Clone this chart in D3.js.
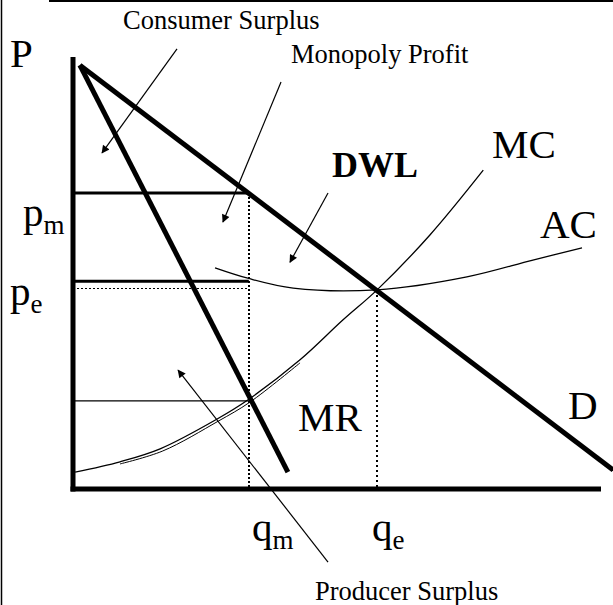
<!DOCTYPE html>
<html>
<head>
<meta charset="utf-8">
<script src="https://cdn.jsdelivr.net/npm/d3@7"></script>
<style>
  body { margin: 0; background: #fff; }
  text { font-family: "Liberation Serif", "Times New Roman", serif; fill: #000; }
</style>
</head>
<body>
<svg id="chart" width="613" height="605"></svg>
<script>
// curves, in quantity / price units (0..10)
var demand = [[0.13, 9.81], [10.23, 0.44]];
var marginalRevenue = [[0.13, 9.81], [4.07, 0.39]];
var marginalCost = [[0.04, 0.39], [0.89, 0.63], [1.65, 0.93], [2.73, 1.62], [3.31, 2.06], [4.30, 2.99], [5.11, 3.91], [5.76, 4.61], [6.76, 5.88], [7.77, 7.38]];
var marginalCost2 = [[0.89, 0.58], [1.70, 0.88], [2.75, 1.57], [3.35, 2.01], [4.30, 2.92]];
var averageCost = [[2.69, 5.12], [3.31, 4.88], [4.17, 4.65], [5.76, 4.61], [7.46, 4.91], [8.71, 5.30], [9.64, 5.58]];

var qm = 3.33, qe = 5.76;
var pm = 6.85, pe = 4.81, peDotted = 4.65, mcAtQm = 2.04, pEq = 4.61;

// annotation arrows: [tail, head]
var arrows = [
    [[1.97, 10.19], [0.55, 7.78]],   // consumer surplus
    [[3.94, 9.42], [2.84, 6.18]],    // monopoly profit
    [[4.83, 6.85], [4.11, 5.25]],    // DWL
    [[4.83, -1.69], [1.99, 2.75]]    // producer surplus
];

var svg = d3.select("#chart");
var x = d3.scaleLinear().domain([0, 10]).range([73, 601]);
var y = d3.scaleLinear().domain([0, 10]).range([489, 57]);

var line = d3.line().x(function (d) { return x(d[0]) }).y(function (d) { return y(d[1]) });
var smooth = d3.line().x(function (d) { return x(d[0]) }).y(function (d) { return y(d[1]) }).curve(d3.curveCatmullRom);

svg.append("defs").append("marker")
    .attr("id", "head")
    .attr("viewBox", "0 0 10 10")
    .attr("refX", 9).attr("refY", 5)
    .attr("markerWidth", 11).attr("markerHeight", 8)
    .attr("markerUnits", "userSpaceOnUse")
    .attr("orient", "auto")
    .append("path").attr("d", "M0,0 L10,5 L0,10 z").attr("fill", "#000");

// frame
svg.append("line").attr("x1", 1.5).attr("x2", 1.5).attr("y1", 0).attr("y2", 605)
    .attr("stroke", "#000").attr("stroke-width", 1.5);
svg.append("line").attr("x1", 49).attr("x2", 613).attr("y1", 1).attr("y2", 1)
    .attr("stroke", "#000").attr("stroke-width", 2);
svg.append("line").attr("x1", 49.5).attr("x2", 49.5).attr("y1", 0).attr("y2", 2)
    .attr("stroke", "#000").attr("stroke-width", 1);

// price levels
svg.append("line").attr("x1", x(0)).attr("x2", x(qm)).attr("y1", y(pm)).attr("y2", y(pm))
    .attr("stroke", "#000").attr("stroke-width", 3);
svg.append("line").attr("x1", x(0)).attr("x2", x(qm)).attr("y1", y(pe)).attr("y2", y(pe))
    .attr("stroke", "#000").attr("stroke-width", 3);
svg.append("line").attr("x1", x(0)).attr("x2", x(qm)).attr("y1", Math.round(y(peDotted)) + 0.5).attr("y2", Math.round(y(peDotted)) + 0.5)
    .attr("stroke", "#000").attr("stroke-width", 1).attr("stroke-dasharray", "2,2")
    .attr("shape-rendering", "crispEdges");
svg.append("line").attr("x1", x(0)).attr("x2", x(qm)).attr("y1", y(mcAtQm)).attr("y2", y(mcAtQm))
    .attr("stroke", "#000").attr("stroke-width", 1.3);

// quantity drops
svg.append("line").attr("x1", Math.round(x(qm))).attr("x2", Math.round(x(qm))).attr("y1", y(pm)).attr("y2", y(0))
    .attr("stroke", "#000").attr("stroke-width", 2).attr("stroke-dasharray", "2,2")
    .attr("shape-rendering", "crispEdges");
svg.append("line").attr("x1", Math.round(x(qe))).attr("x2", Math.round(x(qe))).attr("y1", y(pEq)).attr("y2", y(0))
    .attr("stroke", "#000").attr("stroke-width", 2).attr("stroke-dasharray", "2,3")
    .attr("shape-rendering", "crispEdges");

// cost curves
svg.append("path").attr("d", smooth(marginalCost)).attr("fill", "none").attr("stroke", "#000").attr("stroke-width", 1.3);
svg.append("path").attr("d", smooth(marginalCost2)).attr("fill", "none").attr("stroke", "#000").attr("stroke-width", 1);
svg.append("path").attr("d", smooth(averageCost)).attr("fill", "none").attr("stroke", "#000").attr("stroke-width", 1.3);

// demand and MR
svg.append("path").attr("d", line(demand)).attr("fill", "none").attr("stroke", "#000").attr("stroke-width", 5);
svg.append("path").attr("d", line(marginalRevenue)).attr("fill", "none").attr("stroke", "#000").attr("stroke-width", 5);

// axes
svg.append("line").attr("x1", x(0)).attr("x2", x(0)).attr("y1", y(10)).attr("y2", y(0) + 2.5)
    .attr("stroke", "#000").attr("stroke-width", 5);
svg.append("line").attr("x1", x(0) - 2.5).attr("x2", x(10)).attr("y1", y(0)).attr("y2", y(0))
    .attr("stroke", "#000").attr("stroke-width", 5);

// arrows
svg.selectAll(".arrow").data(arrows).enter()
    .append("path").attr("class", "arrow")
    .attr("d", function (d) { return line(d) })
    .attr("fill", "none").attr("stroke", "#000").attr("stroke-width", 1.2)
    .attr("marker-end", "url(#head)");

// labels
function label(txt, px, py, size, bold) {
    return svg.append("text").attr("x", px).attr("y", py)
        .attr("font-size", size).attr("font-weight", bold ? "bold" : "normal").text(txt);
}
function subLabel(main, sub, px, py) {
    var t = svg.append("text").attr("x", px).attr("y", py).attr("font-size", 41);
    t.append("tspan").text(main);
    t.append("tspan").attr("font-size", 27).attr("dy", 8).text(sub);
}

label("Consumer Surplus", 123, 29, 26.5);
label("Monopoly Profit", 291, 63, 26.5);
label("Producer Surplus", 315, 600, 26.5);
label("P", 10, 67, 41);
label("MC", 492, 158, 41);
label("AC", 540, 238, 41);
label("MR", 298, 431, 41);
label("D", 568, 419, 41);
label("DWL", 332, 177, 36, true);
subLabel("p", "m", 23, 226);
subLabel("p", "e", 10, 305);
subLabel("q", "m", 252, 541);
subLabel("q", "e", 372, 541);
</script>
</body>
</html>
